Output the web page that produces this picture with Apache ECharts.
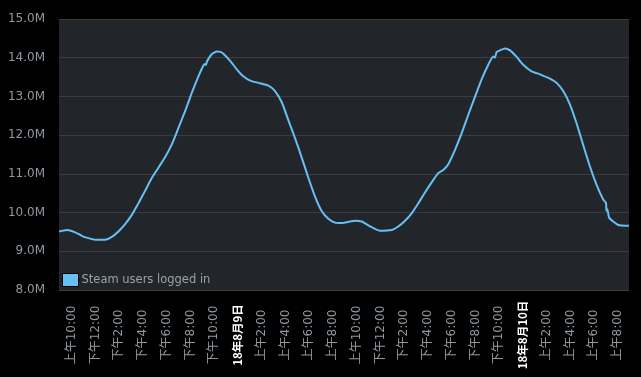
<!DOCTYPE html>
<html>
<head>
<meta charset="utf-8">
<script src="https://cdn.jsdelivr.net/npm/echarts@6/dist/echarts.min.js"></script>
<style>
html,body{margin:0;padding:0;background:#000;}
#c{width:641px;height:377px;}
</style>
</head>
<body>
<div id="c"></div>
<script>
// Hours since 2018-08-08 00:00 (local), users in millions
var hours = [8.93,9.58,10.28,10.84,11.40,11.96,12.80,13.37,13.92,14.49,15.05,15.61,16.17,16.73,17.29,17.85,18.42,18.97,19.54,20.10,20.66,21.08,21.22,21.30,21.38,21.78,22.21,22.55,22.76,23.33,23.89,24.44,25.01,25.71,26.55,27.11,27.68,28.23,28.80,29.36,29.92,30.48,31.04,31.60,32.16,32.73,33.43,33.85,34.41,34.97,35.53,35.95,36.94,37.49,38.06,38.62,39.18,39.74,40.30,40.86,41.28,41.70,42.27,42.83,43.38,43.95,44.51,45.07,45.49,45.62,45.78,46.05,46.47,46.90,47.46,48.01,48.72,49.42,50.26,50.82,51.38,51.95,52.51,53.07,53.63,54.20,54.76,54.98,55.02,55.10,55.17,55.26,56.01,56.91];
var users = [9.51,9.55,9.49,9.40,9.34,9.30,9.30,9.37,9.51,9.70,9.94,10.24,10.56,10.89,11.16,11.43,11.76,12.18,12.62,13.09,13.52,13.80,13.84,13.81,13.90,14.09,14.16,14.15,14.10,13.92,13.70,13.52,13.41,13.35,13.28,13.14,12.85,12.39,11.92,11.42,10.90,10.41,10.04,9.84,9.74,9.73,9.77,9.79,9.77,9.67,9.58,9.53,9.55,9.64,9.79,9.98,10.24,10.52,10.78,11.02,11.10,11.25,11.62,12.05,12.52,12.99,13.44,13.82,14.03,14.00,14.15,14.19,14.24,14.19,14.02,13.82,13.65,13.57,13.46,13.35,13.14,12.79,12.30,11.74,11.19,10.71,10.33,10.25,10.05,10.08,9.98,9.86,9.68,9.66];
var tickHours = [10,12,14,16,18,20,22,24,26,28,30,32,34,36,38,40,42,44,46,48,50,52,54,56];
var tickLabels = ['上午10:00','下午12:00','下午2:00','下午4:00','下午6:00','下午8:00','下午10:00','18年8月9日','上午2:00','上午4:00','上午6:00','上午8:00',
                  '上午10:00','下午12:00','下午2:00','下午4:00','下午6:00','下午8:00','下午10:00','18年8月10日','上午2:00','上午4:00','上午6:00','上午8:00'];
var seriesName = 'Steam users logged in';

var data = hours.map(function(h,i){return [h, users[i]];});
var chart = echarts.init(document.getElementById('c'));
var font = 'DejaVu Sans, "Noto Sans CJK SC", sans-serif';
chart.setOption({
  backgroundColor: '#000',
  animation: false,
  grid: {left: 59, right: 12, top: 19, bottom: 87, show: true, backgroundColor: '#22262a', borderWidth: 0},
  legend: {
    data: [seriesName], left: 57, top: 268, icon: 'rect', itemWidth: 16, itemHeight: 13, itemGap: 4,
    itemStyle: {borderColor: '#000', borderWidth: 1},
    textStyle: {color: '#9aa2aa', fontSize: 11.5, fontFamily: font, padding: [0,0,0,-2]}
  },
  xAxis: {
    type: 'value', min: 8.92, max: 56.92,
    axisLine: {show: false}, axisTick: {show: false}, splitLine: {show: false},
    axisLabel: {
      customValues: tickHours, rotate: 90, align: 'center', margin: 45,
      color: '#8f98a0', fontSize: 12, fontFamily: font,
      formatter: function(v){
        var i = tickHours.indexOf(Math.round(v));
        if (i < 0) return '';
        var t = tickLabels[i];
        return t.indexOf('日') >= 0 ? '{d|' + t + '}' : t;
      },
      rich: {d: {color: '#ffffff', fontWeight: 'bold', fontSize: 11.5, fontFamily: '"Noto Sans CJK SC", sans-serif'}}
    }
  },
  yAxis: {
    type: 'value', min: 8, max: 15, interval: 1,
    axisLine: {show: false}, axisTick: {show: false},
    splitLine: {lineStyle: {color: '#3a3c3e', width: 1}},
    axisLabel: {color: '#8f98a0', fontSize: 12, fontFamily: font, margin: 14, padding: [3,0,0,0],
      formatter: function(v){return v.toFixed(1) + 'M';}}
  },
  series: [{
    name: seriesName, type: 'line', data: data, showSymbol: false, smooth: 0.2,
    lineStyle: {color: '#66c0f4', width: 2}, itemStyle: {color: '#66c0f4'}
  }]
});
</script>
</body>
</html>
